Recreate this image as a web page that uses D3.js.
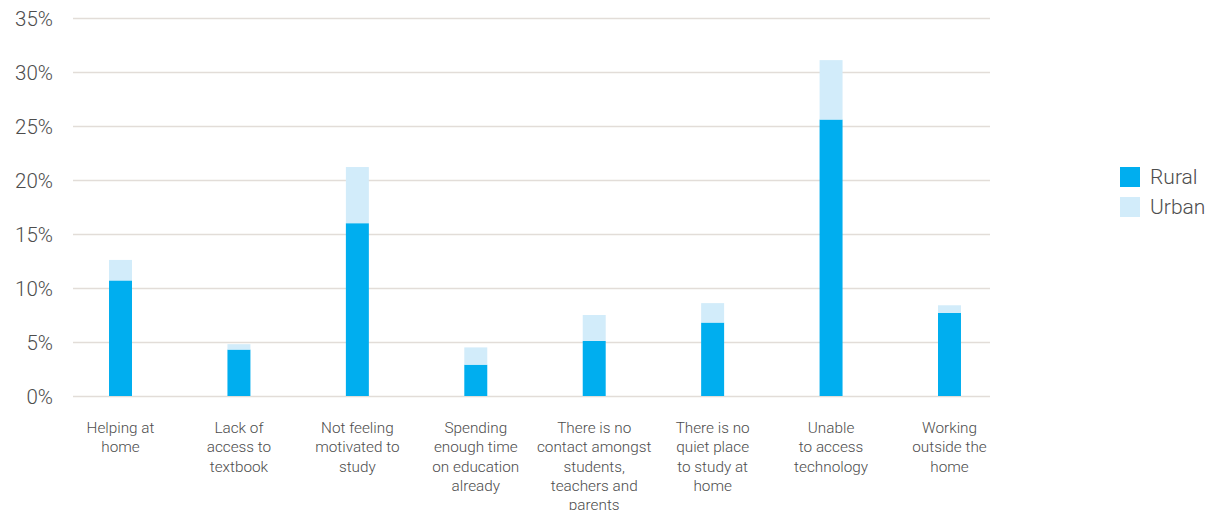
<html>
<script src='https://d3js.org/d3.v7.min.js'></script>
<style>
  body { margin: 0; background: #fff; }
  text { font-family: Roboto, 'Liberation Sans', sans-serif; font-weight: 300; fill: #4d4d4d; }
</style>
<body onload='init()'>
<svg width=1207 height=510></svg>
<script>
// labels, with line breaks as in the picture
var categories = [
  'Helping at\nhome',
  'Lack of\naccess to\ntextbook',
  'Not feeling\nmotivated to\nstudy',
  'Spending\nenough time\non education\nalready',
  'There is no\ncontact amongst\nstudents,\nteachers and\nparents',
  'There is no\nquiet place\nto study at\nhome',
  'Unable\nto access\ntechnology',
  'Working\noutside the\nhome'
];
var rural = [10.7, 4.3, 16.0, 2.9, 5.1, 6.8, 25.6, 7.7];
var urban = [1.9, 0.5, 5.2, 1.6, 2.4, 1.8, 5.5, 0.7];
var seriesNames = ['Rural', 'Urban'];
var yTicks = [0, 5, 10, 15, 20, 25, 30, 35];

function init() {
  var svg = d3.select('svg');
  var colors = {Rural: '#00aeef', Urban: '#d2ecfa'};

  var ys = d3.scaleLinear().domain([0, 35]).range([396, 18]);
  var xs = d3.scaleBand().domain(categories).range([61.3, 1008.7])
    .paddingInner(0.806).paddingOuter(0.403);

  // grid + y labels
  var yAxis = svg.append('g')
    .attr('transform', 'translate(73,0)')
    .call(d3.axisLeft(ys).tickValues(yTicks).tickSize(-917).tickPadding(20)
      .tickFormat(function(d) { return d + '%'; }));
  yAxis.select('.domain').remove();
  yAxis.selectAll('line').attr('stroke', '#e2ddd8').attr('stroke-width', 1.5);
  yAxis.selectAll('text').style('font-size', '20.5px').attr('dy', '0.35em');

  // stacked bars
  var rows = categories.map(function(c, i) { return {cat: c, Rural: rural[i], Urban: urban[i]}; });
  var stack = d3.stack().keys(seriesNames)(rows);
  svg.append('g').selectAll('g').data(stack).enter().append('g')
      .attr('fill', function(d) { return colors[d.key]; })
    .selectAll('rect').data(function(d) { return d; }).enter().append('rect')
      .attr('x', function(d) { return xs(d.data.cat); })
      .attr('width', xs.bandwidth())
      .attr('y', function(d) { return ys(d[1]); })
      .attr('height', function(d) { return ys(d[0]) - ys(d[1]); });

  // x labels
  var xl = svg.append('g').selectAll('text').data(categories).enter().append('text')
    .attr('text-anchor', 'middle')
    .attr('x', function(d) { return xs(d) + xs.bandwidth() / 2; })
    .attr('y', 433)
    .style('font-size', '15.3px');
  xl.selectAll('tspan').data(function(d) { return d.split('\n'); }).enter().append('tspan')
    .attr('x', function() { return d3.select(this.parentNode).attr('x'); })
    .attr('dy', function(d, i) { return i ? 19.3 : 0; })
    .text(function(d) { return d; });

  // legend
  var lg = svg.append('g').attr('transform', 'translate(1120,167)')
    .selectAll('g').data(seriesNames).enter().append('g')
      .attr('transform', function(d, i) { return 'translate(0,' + i * 30 + ')'; });
  lg.append('rect').attr('width', 20).attr('height', 20).attr('fill', function(d) { return colors[d]; });
  lg.append('text').attr('x', 30).attr('y', 10).attr('dy', '0.35em')
    .style('font-size', '21px').text(function(d) { return d; });
}
</script>
</body>
</html>
